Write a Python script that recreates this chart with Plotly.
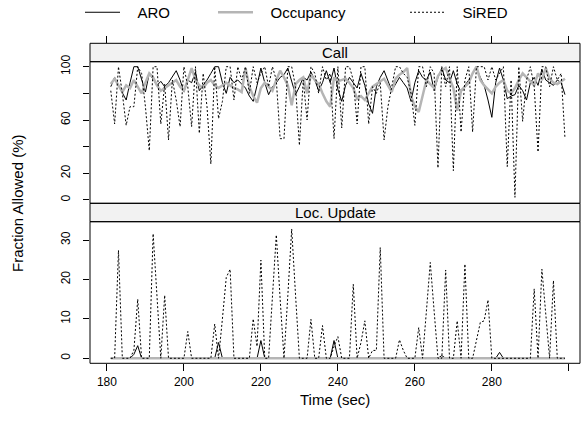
import plotly.graph_objects as go

# ---------------- data ----------------
time_sec = list(range(181, 300))

call_aro = [
    85, 92, 86, 80, 75, 88, 100, 100, 90, 81,
    95, 90, 86, 89, 85, 88, 93, 97, 90, 81,
    90, 88, 96, 82, 86, 90, 95, 100, 100, 88,
    80, 92, 88, 90, 87, 84, 78, 74, 86, 99,
    88, 79, 85, 88, 92, 94, 99, 88, 79, 85,
    92, 90, 96, 90, 82, 88, 97, 88, 99, 83,
    74, 86, 92, 88, 84, 95, 86, 72, 65, 85,
    92, 97, 90, 82, 87, 92, 88, 84, 74, 88,
    97, 92, 90, 96, 82, 92, 99, 90, 88, 97,
    87, 81, 86, 90, 95, 99, 92, 86, 75, 62,
    88, 99, 90, 76, 78, 79, 86, 82, 75, 88,
    92, 86, 98, 90, 88, 86, 90, 88, 79,
]
call_occ = [
    87, 91, 86, 81, 86, 84, 90, 85, 80, 88,
    95, 92, 86, 82, 84, 86, 88, 90, 85, 82,
    90, 99, 90, 86, 84, 88, 90, 86, 84, 86,
    88, 86, 84, 83, 81, 99, 85, 78, 73, 84,
    88, 85, 82, 90, 97, 92, 86, 71, 87, 90,
    92, 80, 94, 90, 87, 80, 74, 70, 92, 89,
    90, 91, 88, 84, 76, 78, 75, 80, 85, 87,
    89, 91, 86, 81, 91, 94, 96, 99, 78, 70,
    66, 78, 90, 87, 84, 93, 97, 99, 92, 84,
    67, 82, 85, 88, 95, 100, 90, 86, 83, 80,
    85, 88, 90, 82, 80, 84, 90, 95, 92, 89,
    86, 95, 90, 99, 91, 88, 87, 89, 91,
]
call_sired = [
    82, 57, 100, 80, 56, 70, 70, 100, 95, 70,
    37, 100, 100, 57, 87, 45, 90, 75, 55, 100,
    85, 55, 100, 50, 95, 70, 27, 100, 61, 74,
    100, 100, 75, 100, 90, 100, 80, 100, 88, 95,
    100, 85, 100, 90, 46, 46, 100, 100, 85, 41,
    90, 60, 100, 95, 80, 100, 90, 95, 46, 100,
    54, 100, 100, 90, 57, 100, 100, 57, 85, 80,
    88, 45, 70, 85, 100, 100, 95, 92, 80, 56,
    100, 100, 85, 100, 95, 24, 100, 85, 100, 22,
    100, 51, 90, 100, 51, 100, 100, 100, 90, 100,
    90, 95, 100, 25, 90, 2, 100, 59, 90, 100,
    85, 36, 100, 100, 85, 100, 90, 95, 46,
]
loc_aro = [
    0, 0, 0, 0, 0, 0, 1, 3.2, 0, 0,
    0, 0, 0, 0, 0, 0, 0, 0, 0, 0,
    0, 0, 0, 0, 0, 0, 0, 0, 4, 0,
    0, 0, 0, 0, 0, 0, 0, 0, 0, 4.5,
    0, 0, 0, 0, 0, 0, 0, 0, 0, 0,
    0, 0, 0, 0, 0, 0, 0, 0, 4.5, 0,
    0, 0, 0, 0, 0, 0, 0, 0, 0, 0,
    0, 0, 0, 0, 0, 0, 0, 0, 0, 0,
    0, 0, 0, 0, 0, 0, 0.7, 0, 0, 0,
    0, 0, 0, 0, 0, 0, 0, 0, 0, 0,
    0, 1.5, 0, 0, 0, 0, 0, 0, 0, 0,
    0, 0, 0, 0, 0, 0, 0, 0, 0,
]
loc_occ = [
    0, 0, 0, 0, 0, 0, 0, 0, 0, 0,
    0, 0, 0, 0, 0, 0, 0, 0, 0, 0,
    0, 0, 0, 0, 0, 0, 0, 0, 0, 0,
    0, 0, 0, 0, 0, 0, 0, 0, 0, 0,
    0, 0, 0, 0, 0, 0, 0, 0, 0, 0,
    0, 0, 0, 0, 0, 0, 0, 0, 0, 0,
    0, 0, 0, 0, 0, 0, 0, 0, 0, 0,
    0, 0, 0, 0, 0, 0, 0, 0, 0, 0,
    0, 0, 0, 0, 0, 0, 0, 0, 0, 0,
    0, 0, 0, 0, 0, 0, 0, 0, 0, 0,
    0, 0, 0, 0, 0, 0, 0, 0, 0, 0,
    0, 0, 0, 0, 0, 0, 0, 0, 0,
]
loc_sired = [
    0, 0, 27.4, 0, 0, 0, 2, 15, 0, 0,
    0, 31.6, 15, 0, 16, 0, 0, 0, 0, 0,
    6.8, 0, 0, 0, 0, 0, 0, 8.7, 0, 10,
    20.5, 22.6, 0, 0, 0, 0, 0, 10, 3, 24.9,
    0, 0, 15, 31.3, 15, 0, 16, 32.8, 16, 0,
    0, 0, 9.9, 0, 0, 8.3, 0, 0, 3, 5.5,
    0, 0, 0, 18.8, 0, 4, 9.5, 0, 2, 2,
    28.1, 0, 0, 0, 0, 4.7, 2, 0, 0, 0,
    7.8, 0, 12, 24.3, 12, 0, 0, 22.4, 0, 0,
    9.5, 0, 23.9, 0, 0, 4.5, 9.1, 9.5, 14.8, 0,
    0, 0, 0, 0, 0, 0, 0, 0, 0, 0,
    17.6, 0, 22.6, 11, 0, 19.7, 0, 0, 0,
]

series_names = ["ARO", "Occupancy", "SiRED"]
panel_titles = ["Call", "Loc. Update"]
x_ticks = [180, 200, 220, 240, 260, 280, 300]
x_ticktext = ["180", "200", "220", "240", "260", "280", ""]
call_ticks = [0, 20, 40, 60, 80, 100]
call_ticktext = ["0", "20", "", "60", "", "100"]
loc_ticks = [0, 10, 20, 30]

# ---------------- styling ----------------
FONT = "Liberation Sans, Arial, Helvetica, sans-serif"
W, H = 582, 431
PANEL_L, PANEL_R = 90, 580   # panel edges in window pixels
L = PANEL_L
R = W - PANEL_R
styles = {
    "ARO": dict(color="black", width=1, dash="solid"),
    "Occupancy": dict(color="#b5b5b5", width=2.5, dash="solid"),
    "SiRED": dict(color="black", width=1, dash="2px,2px"),
}
legend_ids = {"ARO": "legend", "Occupancy": "legend2", "SiRED": "legend3"}
PAD = "\u00a0\u00a0\u00a0"   # gap between legend key and label


def py(px):
    """window pixel y -> paper fraction"""
    return 1 - px / H


def px_x(px):
    """window pixel x -> paper fraction"""
    return (px - PANEL_L) / (PANEL_R - PANEL_L)


top_strip = (43.3, 61.7)
top_panel = (61.7, 203.3)
bot_strip = (203.3, 221.7)
bot_panel = (221.7, 363.3)

fig = go.Figure()

top_data = {"ARO": call_aro, "Occupancy": call_occ, "SiRED": call_sired}
bot_data = {"ARO": loc_aro, "Occupancy": loc_occ, "SiRED": loc_sired}

for name in series_names:
    fig.add_trace(go.Scatter(
        x=time_sec, y=top_data[name], mode="lines", name=PAD + name,
        line=styles[name], xaxis="x", yaxis="y",
        legend=legend_ids[name], showlegend=True, hoverinfo="skip"))
for name in series_names:
    fig.add_trace(go.Scatter(
        x=time_sec, y=bot_data[name], mode="lines", name=name,
        line=styles[name], xaxis="x2", yaxis="y2",
        showlegend=False, hoverinfo="skip"))

xrange = [175.6, 302.9]
common_x = dict(range=xrange, tickvals=x_ticks, ticks="outside", ticklen=7,
                tickwidth=1, tickcolor="black", showgrid=False,
                zeroline=False, showline=False, domain=[0, 1])
common_y = dict(ticks="outside", ticklen=6, tickwidth=1, tickcolor="black",
                showgrid=False, zeroline=False, showline=False,
                tickangle=-90, ticklabelstandoff=8,
                tickfont=dict(size=12, color="black"))

legend_common = dict(orientation="h", yanchor="top", xanchor="left",
                     font=dict(size=15, color="black", family=FONT),
                     bgcolor="rgba(0,0,0,0)", borderwidth=0,
                     itemwidth=35, tracegroupgap=0)
LEG_Y = 1 + 4 / H

fig.update_layout(
    width=W, height=H,
    margin=dict(l=L, r=R, t=0, b=0, pad=0, autoexpand=False),
    paper_bgcolor="white", plot_bgcolor="white",
    font=dict(family=FONT, size=12, color="black"),
    xaxis=dict(common_x, anchor="free", position=py(top_strip[0]), side="top",
               showticklabels=False),
    xaxis2=dict(common_x, anchor="y2", ticktext=x_ticktext,
                tickfont=dict(size=12, color="black")),
    yaxis=dict(common_y, domain=[py(top_panel[1]), py(top_panel[0])],
               range=[-2.5, 103.75], tickvals=call_ticks,
               ticktext=call_ticktext, anchor="x"),
    yaxis2=dict(common_y, domain=[py(bot_panel[1]), py(bot_panel[0])],
                range=[-1.27, 34.65], tickvals=loc_ticks, anchor="x2"),
    legend=dict(legend_common, x=px_x(80), y=LEG_Y),
    legend2=dict(legend_common, x=px_x(213), y=LEG_Y),
    legend3=dict(legend_common, x=px_x(405), y=LEG_Y),
    showlegend=True,
)

shapes = []
for (y0, y1), fill in [(top_strip, "#f2f2f2"), (bot_strip, "#f2f2f2"),
                       (top_panel, None), (bot_panel, None)]:
    shapes.append(dict(type="rect", xref="paper", yref="paper",
                       x0=0, x1=1, y0=py(y1), y1=py(y0),
                       fillcolor=fill if fill else "rgba(0,0,0,0)",
                       line=dict(color="black", width=1),
                       layer="below" if fill else "above"))
fig.update_layout(shapes=shapes)

annotations = [
    dict(text=panel_titles[0], x=0.5, y=py(sum(top_strip) / 2),
         xref="paper", yref="paper", showarrow=False,
         font=dict(size=15, color="black"), xanchor="center", yanchor="middle"),
    dict(text=panel_titles[1], x=0.5, y=py(sum(bot_strip) / 2),
         xref="paper", yref="paper", showarrow=False,
         font=dict(size=15, color="black"), xanchor="center", yanchor="middle"),
    dict(text="Time (sec)", x=0.5, y=py(399), xref="paper", yref="paper",
         showarrow=False, font=dict(size=15, color="black"),
         xanchor="center", yanchor="middle"),
    dict(text="Fraction Allowed (%)", x=px_x(18), y=py(203), xref="paper",
         yref="paper", showarrow=False, textangle=-90,
         font=dict(size=15, color="black"), xanchor="center", yanchor="middle"),
]
fig.update_layout(annotations=annotations)

# remove the default page margin so the figure sits at the window's corner
fig.write_html("out.html",
               config={"displayModeBar": False},
               post_script="document.body.style.margin='0';")
